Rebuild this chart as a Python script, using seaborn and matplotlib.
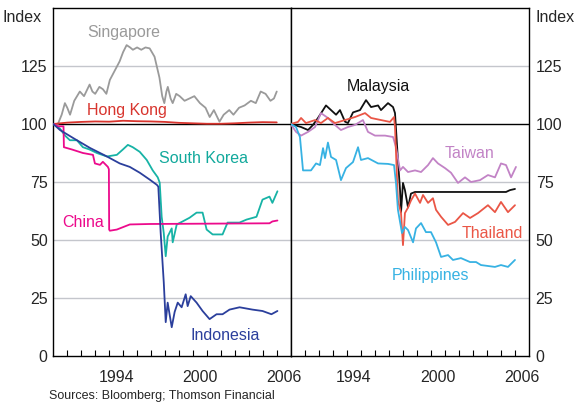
import numpy as np
import pandas as pd
import matplotlib
matplotlib.use("Agg")
import matplotlib.pyplot as plt
import seaborn as sns

# ---------------- data (index, Jan 1990 = 100) ----------------
sg_year = [1990.0, 1990.33, 1990.6, 1990.83, 1991.0, 1991.2, 1991.5, 1991.9, 1992.2, 1992.6, 1992.8, 1993.0,
           1993.3, 1993.55, 1993.8, 1994.05, 1994.4, 1994.75, 1995.0, 1995.25, 1995.5, 1995.7, 1996.0, 1996.3,
           1996.6, 1996.9, 1997.25, 1997.6, 1997.8, 1997.95, 1998.1, 1998.2, 1998.4, 1998.55, 1998.8, 1999.05,
           1999.4, 1999.75, 2000.1, 2000.5, 2000.9, 2001.2, 2001.5, 2001.9, 2002.2, 2002.6, 2002.9, 2003.3,
           2003.7, 2004.15, 2004.5, 2004.85, 2005.2, 2005.55, 2005.8, 2006.0]
sg_val = [100, 100, 104, 109, 107, 104, 110, 114, 112, 117, 114, 113,
          116, 115, 113, 119, 123, 127, 131, 134, 133, 132, 133, 132,
          133, 132.6, 129, 120, 112, 109, 114, 116, 111, 109, 113, 112,
          110, 111, 112, 109, 107, 103, 106, 101, 104, 106, 104, 107,
          108, 110, 109, 114, 113, 110, 111, 114]

hk_year = [1990.0, 1991.0, 1992.0, 1993.0, 1994.0, 1995.0, 1996.0, 1997.0, 1998.0, 1999.0, 2000.0,
           2001.0, 2002.0, 2003.0, 2004.0, 2005.0, 2006.0]
hk_val = [100, 100.6, 100.9, 101.1, 101.0, 101.4, 101.2, 101.1, 100.9, 100.5, 100.3,
          100.1, 100.1, 100.3, 100.6, 100.8, 100.7]

kr_year = [1990.0, 1990.48, 1990.84, 1991.19, 1991.69, 1992.12, 1992.6, 1993.12, 1993.84, 1994.55, 1994.98,
           1995.34, 1995.69, 1996.19, 1996.69, 1997.12, 1997.48, 1997.62, 1997.76, 1997.91, 1998.05, 1998.19,
           1998.48, 1998.55, 1998.84, 1999.26, 1999.76, 2000.26, 2000.69, 2000.98, 2001.41, 2002.12, 2002.48,
           2003.33, 2003.84, 2004.55, 2004.98, 2005.48, 2005.69, 2006.05]
kr_val = [100, 98, 95, 93, 93, 90, 89, 87.5, 86, 86.7, 89,
          91, 90, 88, 84.5, 80, 77, 74.7, 60, 53, 43, 51.5,
          55, 49, 56.7, 58, 59.6, 61.8, 61.8, 54.5, 52.4, 52.4, 57.5,
          57.5, 58.8, 60, 67.4, 68.7, 66, 71]

id_year = [1990.0, 1990.48, 1991.41, 1992.62, 1993.84, 1994.76, 1995.48, 1996.19, 1996.91, 1997.41, 1997.52,
           1997.69, 1997.91, 1998.05, 1998.19, 1998.48, 1998.69, 1998.91, 1999.19, 1999.48, 1999.62, 1999.84,
           2000.26, 2000.69, 2001.19, 2001.69, 2002.12, 2002.62, 2003.34, 2004.26, 2004.98, 2005.62, 2006.05]
id_val = [100, 97.4, 94, 89.7, 86, 83, 81.5, 79, 76, 73.8, 73,
          53, 31.8, 14.6, 23, 12.4, 19, 23, 21, 26.6, 21.5, 25.8,
          23, 19.4, 15.9, 18, 18, 20, 21, 20, 19.4, 18, 19.4]

cn_year = [1990.0, 1990.34, 1990.73, 1990.76, 1991.34, 1992.12, 1992.84, 1992.98, 1993.34, 1993.55, 1993.91,
           1993.98, 1994.0, 1994.05, 1994.55, 1995.48, 1996.91, 2005.48, 2005.69, 2006.05]
cn_val = [100, 99, 99, 90, 89, 87.5, 86.7, 83, 82.4, 83.7, 81.5,
          80.5, 54.5, 54, 54.5, 56.7, 56.9, 57.2, 58, 58.4]

my_year = [1990.0, 1990.74, 1991.24, 1991.59, 1991.95, 1992.31, 1992.52, 1992.88, 1993.24, 1993.52, 1993.88,
           1994.09, 1994.45, 1994.95, 1995.38, 1995.74, 1996.24, 1996.45, 1996.95, 1997.31, 1997.45, 1997.66,
           1997.81, 1997.88, 1998.02, 1998.16, 1998.38, 1998.59, 1998.88, 2005.38, 2005.66, 2006.02]
my_val = [100, 98.7, 97.4, 99.6, 102.6, 106, 108, 106, 104, 106, 101,
          100.4, 105, 106, 110.3, 107.3, 108, 106, 109, 107.3, 104.7, 84.5,
          71.5, 62, 74.6, 71.5, 64, 70, 70.7, 70.7, 71.5, 72]

th_year = [1990.0, 1990.52, 1990.74, 1991.09, 1991.74, 1992.16, 1992.66, 1993.16, 1993.88, 1994.59, 1995.31,
           1995.74, 1996.45, 1997.09, 1997.38, 1997.45, 1997.59, 1997.66, 1997.88, 1998.02, 1998.16, 1998.38,
           1998.59, 1998.88, 1999.24, 1999.45, 1999.81, 2000.16, 2000.38, 2000.74, 2001.24, 2001.74, 2002.31,
           2002.81, 2003.38, 2004.09, 2004.59, 2005.02, 2005.52, 2006.02]
th_val = [100, 100.9, 102.6, 100.4, 101.7, 100.4, 102.6, 100.4, 101.7, 103, 104.7,
          102.6, 101.7, 100.9, 103, 98.7, 77, 67, 61.6, 47.8, 61.6, 64,
          67, 70, 66, 69.4, 66, 68, 63, 60, 56.5, 57.8, 61.6,
          59.5, 61.6, 65, 62, 66.4, 62, 65]

tw_year = [1990.0, 1990.38, 1990.74, 1991.24, 1991.74, 1992.16, 1992.66, 1993.16, 1993.59, 1994.09, 1994.59,
           1995.16, 1995.52, 1996.02, 1996.74, 1997.31, 1997.52, 1997.81, 1998.02, 1998.38, 1998.88, 1999.31,
           1999.81, 2000.16, 2000.52, 2001.02, 2001.45, 2001.95, 2002.45, 2002.88, 2003.52, 2004.09, 2004.59,
           2005.02, 2005.38, 2005.74, 2006.09]
tw_val = [100, 96.6, 95, 96.6, 98.7, 104.7, 102.6, 99.6, 97.4, 98.7, 99.6,
          101.7, 96.6, 95, 95, 94.4, 90, 80, 81.5, 79.3, 80, 79.3,
          82.3, 85.3, 83, 81, 79, 74.6, 77, 75, 75.8, 78, 77,
          83, 82.3, 77, 81.5]

ph_year = [1990.0, 1990.38, 1990.66, 1990.88, 1991.45, 1991.81, 1992.09, 1992.31, 1992.45, 1992.66, 1992.88,
           1993.24, 1993.59, 1993.95, 1994.45, 1994.81, 1995.02, 1995.52, 1996.24, 1996.95, 1997.38, 1997.52,
           1997.66, 1997.95, 1998.16, 1998.38, 1998.74, 1998.95, 1999.31, 1999.66, 2000.02, 2000.38, 2000.74,
           2001.24, 2001.59, 2002.16, 2002.81, 2003.24, 2003.59, 2004.59, 2005.02, 2005.52, 2006.02]
ph_val = [100, 98.7, 94.4, 80, 80, 83, 82.3, 89.6, 85.3, 92, 85.8,
          84.5, 75.8, 81, 83.6, 90, 84.5, 85.3, 83, 82.8, 82.3, 74.6,
          63, 53, 55.6, 54.3, 49, 55, 57.3, 53.4, 53.4, 49, 42.7,
          43.5, 41.4, 42.2, 40.5, 40.5, 39.2, 38.4, 39.2, 38.4, 41.4]

left_names = ["Singapore", "Hong Kong", "South Korea", "China", "Indonesia"]
right_names = ["Malaysia", "Taiwan", "Thailand", "Philippines"]
xtick_labels = ["1994", "2000", "2006"]
ytick_values = [0, 25, 50, 75, 100, 125]

colors = {
    "Singapore": "#9a9a9a",
    "Hong Kong": "#d8352e",
    "South Korea": "#17b3a6",
    "China": "#ec0a8c",
    "Indonesia": "#2b3f9c",
    "Malaysia": "#111111",
    "Taiwan": "#c283c6",
    "Thailand": "#ea5646",
    "Philippines": "#37b2e3",
}

series = {
    "Singapore": (sg_year, sg_val),
    "Hong Kong": (hk_year, hk_val),
    "South Korea": (kr_year, kr_val),
    "China": (cn_year, cn_val),
    "Indonesia": (id_year, id_val),
    "Malaysia": (my_year, my_val),
    "Taiwan": (tw_year, tw_val),
    "Thailand": (th_year, th_val),
    "Philippines": (ph_year, ph_val),
}

frames = []
for name, (yr, v) in series.items():
    frames.append(pd.DataFrame({"country": name, "year": yr, "value": v}))
df = pd.concat(frames, ignore_index=True)

# ---------------- styling ----------------
sns.set_style("white")
plt.rcParams["font.family"] = ["Liberation Sans", "DejaVu Sans"]
FS = 11.5

fig = plt.figure(figsize=(5.77, 4.04), dpi=100)
W, H = 577.0, 404.0
ax1 = fig.add_axes([53.3 / W, 48 / H, 237.4 / W, 348 / H])
ax2 = fig.add_axes([290.7 / W, 48 / H, 238.0 / W, 348 / H])

# label positions (data coords) and colours
left_labels = {
    "Singapore": (1995.05, 139.5, "#9a9a9a"),
    "Hong Kong": (1995.3, 105.8, "#d8352e"),
    "South Korea": (2000.75, 85.0, "#12a99c"),
    "China": (1992.1, 57.5, "#ec0a8c"),
    "Indonesia": (2002.3, 8.8, "#2b3f9c"),
}
right_labels = {
    "Malaysia": (1996.25, 116.0, "#111111"),
    "Taiwan": (2002.8, 87.2, "#c283c6"),
    "Thailand": (2004.4, 53.0, "#ea5646"),
    "Philippines": (2000.0, 34.8, "#37b2e3"),
}

for ax, names, labels in [(ax1, left_names, left_labels), (ax2, right_names, right_labels)]:
    ax.set_xlim(1990, 2007)
    ax.set_ylim(0, 150)
    for yv in [25, 50, 75, 125]:
        ax.axhline(yv, color="#c4c6cc", lw=1.0, zorder=0)
    ax.axhline(100, color="black", lw=1.0, zorder=1)
    sub = df[df["country"].isin(names)]
    sns.lineplot(data=sub, x="year", y="value", hue="country", hue_order=names,
                 palette=colors, estimator=None, sort=True, lw=1.3, legend=False, ax=ax, zorder=3)
    for name, (lx, ly, c) in labels.items():
        ax.text(lx, ly, name, color=c, fontsize=FS, ha="center", va="center")
    ax.set_xlabel("")
    ax.set_ylabel("")
    for sp in ax.spines.values():
        sp.set_visible(True)
        sp.set_color("black")
        sp.set_linewidth(1.0)
    ax.set_xticks(list(range(1991, 2007)))
    ax.set_xticklabels([])
    ax.set_xticks([1994.5, 2000.5, 2006.5], labels=xtick_labels, minor=True)
    ax.tick_params(axis="x", which="major", direction="in", length=4, width=0.8, color="black",
                   bottom=True, top=False)
    ax.tick_params(axis="x", which="minor", length=0, pad=10, labelsize=FS)
    ax.set_yticks(ytick_values)

ax1.tick_params(axis="y", length=0, pad=4, labelsize=FS, left=False, labelleft=True)
ax2.yaxis.tick_right()
ax2.tick_params(axis="y", length=0, pad=5, labelsize=FS, right=False, labelright=True, labelleft=False)

fig.text(2 / W, 1 - 17 / H, "Index", fontsize=FS, ha="left", va="center")
fig.text(575 / W, 1 - 17 / H, "Index", fontsize=FS, ha="right", va="center")
fig.text(49 / W, 1 - 396 / H, "Sources: Bloomberg; Thomson Financial", fontsize=9, ha="left", va="center")

fig.savefig("out.png", dpi=100)
